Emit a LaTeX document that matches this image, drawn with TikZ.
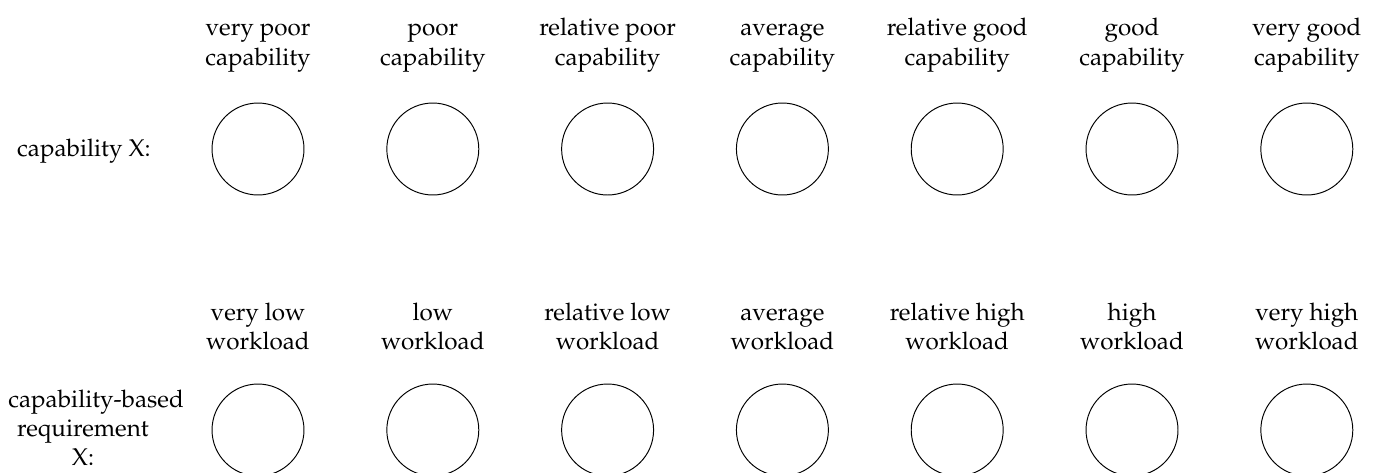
\documentclass[tikz,border=0pt]{standalone}
\usepackage[T1]{fontenc}
\usepackage{mathpazo}
\begin{document}
\begin{tikzpicture}[x=0.4132pt,y=-0.4132pt,
  ring/.style={circle,draw,line width=0.4pt,minimum size=38pt,inner sep=0pt},
  lab/.style={align=center,inner sep=0pt,anchor=base,font=\fontsize{10}{12}\selectfont}]
\useasboundingbox (0,0) rectangle (1379,472);
\foreach \t [count=\i] in {{very poor\\capability},{poor\\capability},{relative poor\\capability},{average\\capability},{relative good\\capability},{good\\capability},{very good\\capability}}{
  \node[lab] (l\i) at ({258+174.8*(\i-1)},65) {\t};
  \node[ring] (c\i) at ({258+174.8*(\i-1)},149) {};
}
\foreach \t [count=\i] in {{very low\\workload},{low\\workload},{relative low\\workload},{average\\workload},{relative high\\workload},{high\\workload},{very high\\workload}}{
  \node[lab] (m\i) at ({258+174.8*(\i-1)},349.3) {\t};
  \node[ring] (d\i) at ({258+174.8*(\i-1)},430) {};
}
\node[lab] (capx) at (84,156) {capability X:};
\node[lab,text width=61.7pt] (reqx) at (83,407.7) {\mbox{capability-based}\\requirement\\X:};
\end{tikzpicture}
\end{document}
